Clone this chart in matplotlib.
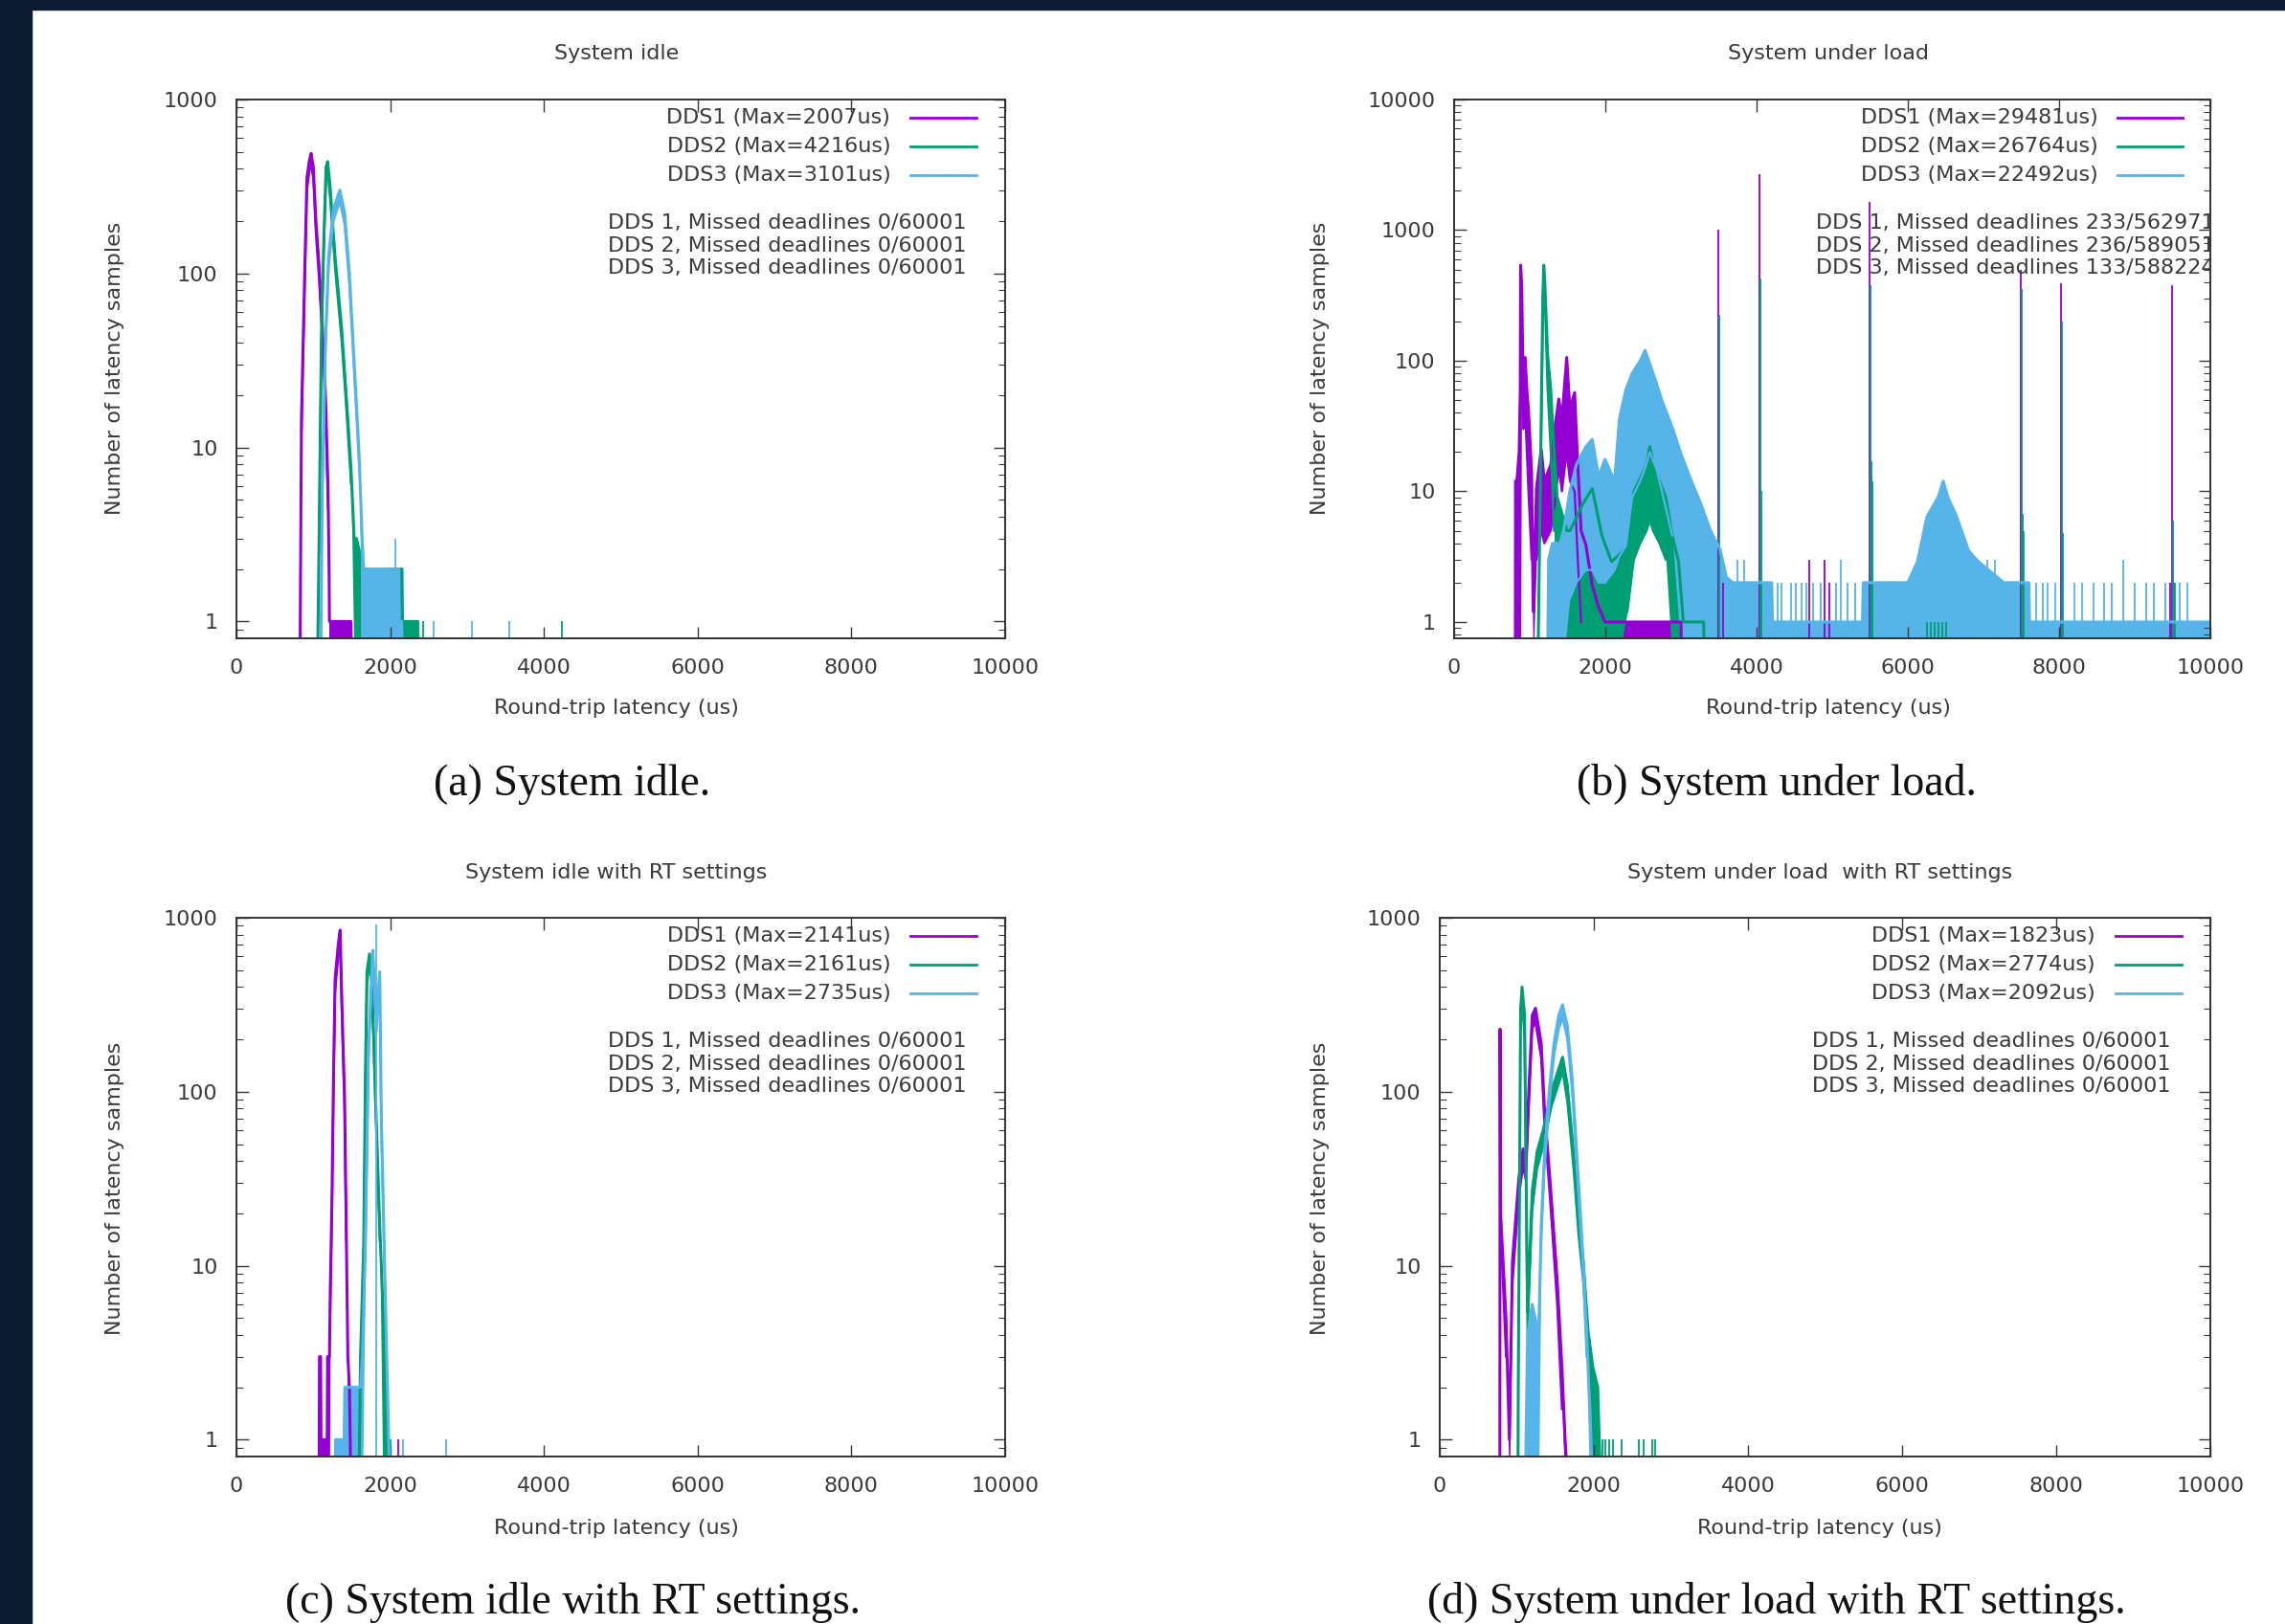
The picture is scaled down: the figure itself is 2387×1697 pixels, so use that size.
import numpy as np
import matplotlib
matplotlib.use("Agg")
from matplotlib import pyplot as plt
from matplotlib.patches import Rectangle
from matplotlib.ticker import LogLocator, NullFormatter

# colours of the three DDS implementations
c1 = "#9400d3"
c2 = "#009e73"
c3 = "#56b4e9"

# (a) System idle
a_dds1_x = [826, 846, 888, 917, 950, 971, 1000, 1033, 1075, 1117, 1158, 1191, 1205, 1210, 1490, 1500]
a_dds1_hi = [0.5, 15, 100, 355, 450, 490, 410, 204, 110, 50, 20, 6, 2, 1, 1, 0.5]
a_dds1_lo = [0.5, 12, 85, 300, 390, 420, 350, 170, 92, 42, 16, 4.5, 0.5, 0.5, 0.5, 0.5]
a_dds2_x = [1054, 1075, 1104, 1137, 1166, 1187, 1220, 1282, 1366, 1428, 1490, 1532, 1560, 1656, 1700, 2154, 2160, 2360, 2370]
a_dds2_hi = [0.5, 3, 41, 162, 410, 440, 310, 126, 50, 20, 7.6, 3, 3, 2, 2, 2, 1, 1, 0.5]
a_dds2_lo = [0.5, 2.5, 35, 138, 350, 380, 265, 108, 42, 17, 6.2, 0.5, 0.5, 0.5, 0.5, 0.5, 0.5, 0.5, 0.5]
a_dds3_x = [1096, 1117, 1158, 1199, 1262, 1345, 1407, 1469, 1532, 1594, 1635, 1656, 2112, 2120, 2150, 2160]
a_dds3_hi = [0.5, 6, 41, 126, 234, 302, 224, 100, 31, 9.5, 3, 2, 2, 1, 1, 0.5]
a_dds3_lo = [0.5, 5, 35, 108, 200, 260, 190, 85, 26, 8, 0.5, 0.5, 0.5, 0.5, 0.5, 0.5]
a_dds1_sx, a_dds1_sy = [], []
a_dds2_sx, a_dds2_sy = [2425, 4230], [1, 1]
a_dds3_sx, a_dds3_sy = [1635, 2071, 2570, 3067, 3544], [3, 3, 1, 1, 1]

# (b) System under load
b_dds1_x = [810, 812, 830, 860, 875, 880, 895, 915, 940, 962, 983, 1025, 1046, 1089, 1152, 1194, 1278, 1330, 1384, 1426,
            1489, 1531, 1594, 1636, 1679, 1742, 1827, 1911, 1995, 3000, 3010]
b_dds1_hi = [0.5, 12, 12, 20, 60, 540, 365, 51, 106, 60, 43, 14, 1.2, 10.6, 21, 12, 16, 30, 51, 36,
             106, 43, 57, 16, 5, 3.9, 1.9, 1.3, 1, 1, 0.5]
b_dds1_lo = [0.5, 0.5, 0.5, 0.5, 0.5, 0.5, 200, 30, 40, 20, 10, 3, 0.5, 3, 5, 4, 5, 8, 15, 10,
             20, 12, 10, 3, 1, 0.5, 0.5, 0.5, 0.5, 0.5, 0.5]
b_dds2_x = [1110, 1150, 1173, 1186, 1200, 1236, 1278, 1321, 1363, 1426, 1489, 1531, 1600, 1700, 1827, 1954, 2081, 2166,
            2292, 2377, 2461, 2546, 2588, 2630, 2715, 2800, 2884, 2968, 3031, 3300, 3310]
b_dds2_hi = [0.5, 30, 300, 540, 400, 112, 60, 21, 9, 6.8, 5, 5, 6, 8, 10.5, 4.6, 2.9, 3.2,
             3.8, 10, 12.5, 16, 22, 16.5, 12, 9, 4.6, 2.9, 1, 1, 0.5]
b_dds2_lo = [0.5, 22, 200, 420, 300, 60, 20, 5, 0.5, 0.5, 0.5, 0.5, 0.5, 0.5, 0.5, 0.5, 0.5, 0.5,
             1.2, 3, 4, 5, 6, 5, 4, 3, 0.5, 0.5, 0.5, 0.5, 0.5]
b_dds3_x = [1236, 1250, 1300, 1400, 1447, 1530, 1616, 1742, 1827, 1911, 1995, 2122, 2186, 2271, 2355, 2461, 2525,
            2588, 2673, 2757, 2884, 3011, 3138, 3264, 3391, 3517, 3601, 3686, 4200, 4210, 5400, 5410, 6000,
            6127, 6253, 6400, 6468, 6530, 6637, 6805, 6932, 7270, 7600, 7610, 10000]
b_dds3_hi = [0.5, 3, 4, 4, 5, 10, 16, 22, 25, 13, 17.6, 12, 36, 60, 80, 100, 120,
             95, 68, 48, 31, 18.6, 12, 8, 5, 3.6, 2.2, 2, 2, 1, 1, 2, 2,
             2.9, 6.4, 9, 12, 9, 6.6, 3.5, 2.9, 2, 2, 1, 1]
b_dds3_lo = [0.5, 0.5, 0.5, 0.5, 0.5, 1.5, 2, 2.5, 2.5, 2, 2, 2.5, 3.2, 3.8, 9, 12, 15,
             20, 15, 9.5, 4.6, 0.5, 0.5, 0.5, 0.5, 0.5, 0.5, 0.5, 0.5, 0.5, 0.5, 0.5, 0.5,
             0.5, 0.5, 0.5, 0.5, 0.5, 0.5, 0.5, 0.5, 0.5, 0.5, 0.5, 0.5]
b_dds1_sx = [3494, 4040, 5490, 7490, 8030, 9490, 4700, 4900, 4960, 3560, 9470]
b_dds1_sy = [1000, 2700, 1650, 500, 390, 380, 3, 3, 2, 2, 2]
b_dds2_sx = [3505, 4052, 4065, 5502, 5515, 5530, 7502, 7515, 7530, 8042, 8055, 9502, 9515, 9530,
             6250, 6300, 6350, 6400, 6450, 6500]
b_dds2_sy = [225, 430, 10, 380, 17, 12, 355, 6.7, 5, 200, 4.8, 6, 2, 2,
             1, 1, 1, 1, 1, 1]
b_dds3_sx = [3750, 3830, 3900, 4150, 4280, 4330, 4450, 4520, 4600, 4660, 4750, 4850, 5050, 5120, 5200, 5300, 7050,
             7150, 7250, 7700, 7780, 7850, 7950, 8200, 8300, 8450, 8600, 8700, 8850, 9000, 9150, 9250, 9400, 9600, 9700]
b_dds3_sy = [3, 3, 2, 2, 2, 2, 2, 2, 2, 2, 2, 2, 2, 3, 2, 2, 3,
             3, 2, 2, 2, 2, 2, 2, 2, 2, 2, 2, 3, 2, 2, 2, 2, 2, 2]

# (c) System idle with RT settings
c_dds1_x = [1075, 1080, 1095, 1100, 1180, 1185, 1210, 1220, 1241, 1262, 1283, 1324, 1349, 1374, 1407, 1428, 1449, 1470, 1490]
c_dds1_hi = [0.5, 3, 3, 1, 1, 3, 3, 7, 22, 117, 440, 700, 850, 300, 92, 17, 3, 2, 0.5]
c_dds1_lo = [0.5, 0.5, 0.5, 0.5, 0.5, 0.5, 0.5, 5.5, 18, 95, 370, 600, 720, 250, 78, 14, 0.5, 0.5, 0.5]
c_dds2_x = [1593, 1614, 1656, 1677, 1698, 1731, 1760, 1802, 1864, 1905, 1939, 1968, 2009]
c_dds2_hi = [0.5, 3, 13.5, 117, 490, 620, 490, 117, 17, 6, 3, 1, 0.5]
c_dds2_lo = [0.5, 0.5, 11, 100, 420, 530, 420, 100, 14, 0.5, 0.5, 0.5, 0.5]
c_dds3_x = [1280, 1290, 1400, 1410, 1614, 1640, 1677, 1719, 1773, 1802, 1823, 1864, 1885, 1926, 1955, 1997]
c_dds3_hi = [0.5, 1, 1, 2, 2, 3, 13, 186, 650, 380, 260, 490, 72, 11, 3, 0.5]
c_dds3_lo = [0.5, 0.5, 0.5, 0.5, 0.5, 0.5, 11, 160, 560, 320, 220, 420, 60, 9, 0.5, 0.5]
c_dds1_sx, c_dds1_sy = [2100], [1]
c_dds2_sx, c_dds2_sy = [1990, 2010], [1, 1]
c_dds3_sx, c_dds3_sy = [1814, 2171, 2731], [910, 1, 1]

# (d) System under load with RT settings
d_dds1_x = [780, 783, 790, 860, 904, 944, 1027, 1081, 1118, 1159, 1201, 1242, 1317, 1358, 1441, 1524, 1586, 1627, 1669]
d_dds1_hi = [0.5, 229, 20, 5, 1, 10.7, 32, 47, 39, 109, 275, 302, 190, 82, 27, 8.3, 2.6, 1, 0.5]
d_dds1_lo = [0.5, 0.5, 16, 3, 0.5, 8, 25, 37, 31, 88, 230, 250, 155, 66, 21, 6, 1.5, 0.5, 0.5]
d_dds2_x = [1015, 1019, 1050, 1068, 1101, 1139, 1201, 1263, 1346, 1449, 1594, 1656, 1739, 1801, 1863, 1925, 1988, 2050, 2091]
d_dds2_hi = [0.5, 2, 300, 400, 275, 5.4, 27, 45, 61, 100, 158, 109, 43, 18.7, 10.5, 4.2, 2.6, 2, 0.5]
d_dds2_lo = [0.5, 0.5, 250, 330, 200, 4, 21, 36, 49, 82, 130, 88, 35, 15, 8, 3, 0.5, 0.5, 0.5]
d_dds3_x = [1110, 1140, 1200, 1284, 1317, 1358, 1420, 1483, 1545, 1594, 1656, 1718, 1780, 1822, 1863, 1905, 1946, 1988]
d_dds3_hi = [0.5, 4, 6, 4, 17, 43, 100, 190, 275, 316, 240, 120, 43, 21, 10.5, 4.2, 1.6, 0.5]
d_dds3_lo = [0.5, 0.5, 0.5, 0.5, 14, 35, 82, 160, 230, 265, 200, 100, 35, 17, 8.5, 3, 0.5, 0.5]
d_dds1_sx, d_dds1_sy = [], []
d_dds2_sx = [2112, 2150, 2200, 2250, 2360, 2590, 2640, 2760, 2800]
d_dds2_sy = [1, 1, 1, 1, 1, 1, 1, 1, 1]
d_dds3_sx, d_dds3_sy = [], []

# legend / annotation texts
a_max = ["DDS1 (Max=2007us)", "DDS2 (Max=4216us)", "DDS3 (Max=3101us)"]
b_max = ["DDS1 (Max=29481us)", "DDS2 (Max=26764us)", "DDS3 (Max=22492us)"]
c_max = ["DDS1 (Max=2141us)", "DDS2 (Max=2161us)", "DDS3 (Max=2735us)"]
d_max = ["DDS1 (Max=1823us)", "DDS2 (Max=2774us)", "DDS3 (Max=2092us)"]
idle_missed = ["DDS 1, Missed deadlines 0/60001", "DDS 2, Missed deadlines 0/60001",
               "DDS 3, Missed deadlines 0/60001"]
b_missed = ["DDS 1, Missed deadlines 233/562971", "DDS 2, Missed deadlines 236/589051",
            "DDS 3, Missed deadlines 133/588224"]

W, H = 2387, 1697
FS = 16
GREY = "#3a3a3a"


def fx(px):
    return px / W


def fy(py):
    return 1 - py / H


def draw_series(ax, x, hi, lo, sx, sy, color):
    lo = np.array(lo, dtype=float)
    ax.fill_between(x, lo, hi, color=color, lw=0)
    ax.plot(x, hi, color=color, lw=2.2, solid_joinstyle="round")
    ax.plot(x, np.ma.masked_less(lo, 0.6), color=color, lw=1.6)
    if len(sx):
        ax.vlines(sx, 0.5, sy, color=color, lw=1.3)


def setup_axes(rect, ymax, ymin):
    ax = fig.add_axes(rect)
    ax.set_yscale("log")
    ax.set_xlim(0, 10000)
    ax.set_ylim(ymin, ymax)
    ax.set_xticks(range(0, 10001, 2000))
    ax.set_xticklabels([str(v) for v in range(0, 10001, 2000)])
    yt = [10 ** k for k in range(int(np.log10(ymax)) + 1)]
    ax.set_yticks(yt)
    ax.set_yticklabels([str(v) for v in yt])
    ax.yaxis.set_minor_locator(LogLocator(base=10, subs=np.arange(2, 10)))
    ax.yaxis.set_minor_formatter(NullFormatter())
    ax.tick_params(which="both", direction="in", top=True, right=True, colors=GREY,
                   labelsize=FS, labelcolor=GREY)
    ax.tick_params(which="major", length=9, width=1)
    ax.tick_params(which="minor", length=5, width=0.8)
    ax.tick_params(axis="x", pad=15)
    ax.tick_params(axis="y", pad=14)
    for s in ax.spines.values():
        s.set_color("#333333")
        s.set_linewidth(1.4)
    return ax


def add_key(ax, labels, missed, missed_x, missed_ha):
    for i, (lab, col) in enumerate(zip(labels, [c1, c2, c3])):
        yy = 0.966 - i * 0.053
        ax.text(0.851, yy, lab, transform=ax.transAxes, ha="right", va="center",
                fontsize=FS, color=GREY)
        ax.plot([0.877, 0.963], [yy, yy], transform=ax.transAxes, color=col, lw=2)
    for i, t in enumerate(missed):
        ax.text(missed_x, 0.771 - i * 0.042, t, transform=ax.transAxes, ha=missed_ha,
                va="center", fontsize=FS, color=GREY, clip_on=True)


fig = plt.figure(figsize=(W / 100, H / 100), dpi=100)
fig.patches.append(Rectangle((0, 0), fx(33), 1, transform=fig.transFigure, color="#0c1a2f", zorder=-1))
fig.patches.append(Rectangle((0, fy(10)), 1, 10 / H, transform=fig.transFigure, color="#0c1a2f", zorder=-1))

panels = [
    ([fx(247), fy(667), fx(803), 563 / H], 1000, 0.8,
     [(a_dds1_x, a_dds1_hi, a_dds1_lo, a_dds1_sx, a_dds1_sy),
      (a_dds2_x, a_dds2_hi, a_dds2_lo, a_dds2_sx, a_dds2_sy),
      (a_dds3_x, a_dds3_hi, a_dds3_lo, a_dds3_sx, a_dds3_sy)],
     a_max, idle_missed, 0.949, "right"),
    ([fx(1519), fy(667), fx(790), 563 / H], 10000, 0.75,
     [(b_dds1_x, b_dds1_hi, b_dds1_lo, b_dds1_sx, b_dds1_sy),
      (b_dds2_x, b_dds2_hi, b_dds2_lo, b_dds2_sx, b_dds2_sy),
      (b_dds3_x, b_dds3_hi, b_dds3_lo, b_dds3_sx, b_dds3_sy)],
     b_max, b_missed, 0.478, "left"),
    ([fx(247), fy(1522), fx(803), 563 / H], 1000, 0.8,
     [(c_dds1_x, c_dds1_hi, c_dds1_lo, c_dds1_sx, c_dds1_sy),
      (c_dds2_x, c_dds2_hi, c_dds2_lo, c_dds2_sx, c_dds2_sy),
      (c_dds3_x, c_dds3_hi, c_dds3_lo, c_dds3_sx, c_dds3_sy)],
     c_max, idle_missed, 0.949, "right"),
    ([fx(1504), fy(1522), fx(805), 563 / H], 1000, 0.8,
     [(d_dds1_x, d_dds1_hi, d_dds1_lo, d_dds1_sx, d_dds1_sy),
      (d_dds2_x, d_dds2_hi, d_dds2_lo, d_dds2_sx, d_dds2_sy),
      (d_dds3_x, d_dds3_hi, d_dds3_lo, d_dds3_sx, d_dds3_sy)],
     d_max, idle_missed, 0.949, "right"),
]

for rect, ymax, ymin, series, maxlab, missed, mx, mha in panels:
    ax = setup_axes(rect, ymax, ymin)
    for (x, hi, lo, sx, sy), col in zip(series, [c1, c2, c3]):
        draw_series(ax, x, hi, lo, sx, sy, col)
    add_key(ax, maxlab, missed, mx, mha)

titles = [("System idle", 644, 56), ("System under load", 1910, 56),
          ("System idle with RT settings", 644, 912), ("System under load  with RT settings", 1901, 912)]
for t, x, y in titles:
    fig.text(fx(x), fy(y), t, ha="center", va="center", fontsize=FS, color=GREY)

for x, y in [(644, 740), (1910, 740), (644, 1597), (1901, 1597)]:
    fig.text(fx(x), fy(y), "Round-trip latency (us)", ha="center", va="center", fontsize=FS, color=GREY)
for x, y in [(120, 385), (1379, 385), (120, 1242), (1379, 1242)]:
    fig.text(fx(x), fy(y), "Number of latency samples", ha="center", va="center", rotation=90,
             fontsize=FS, color=GREY)

captions = [("(a) System idle.", 598, 819), ("(b) System under load.", 1856, 819),
            ("(c) System idle with RT settings.", 598, 1674),
            ("(d) System under load with RT settings.", 1856, 1674)]
for t, x, y in captions:
    fig.text(fx(x), fy(y), t, ha="center", va="center", fontsize=33, family="Liberation Serif",
             color="#111111")

fig.savefig("out.png", dpi=100, facecolor="white")
